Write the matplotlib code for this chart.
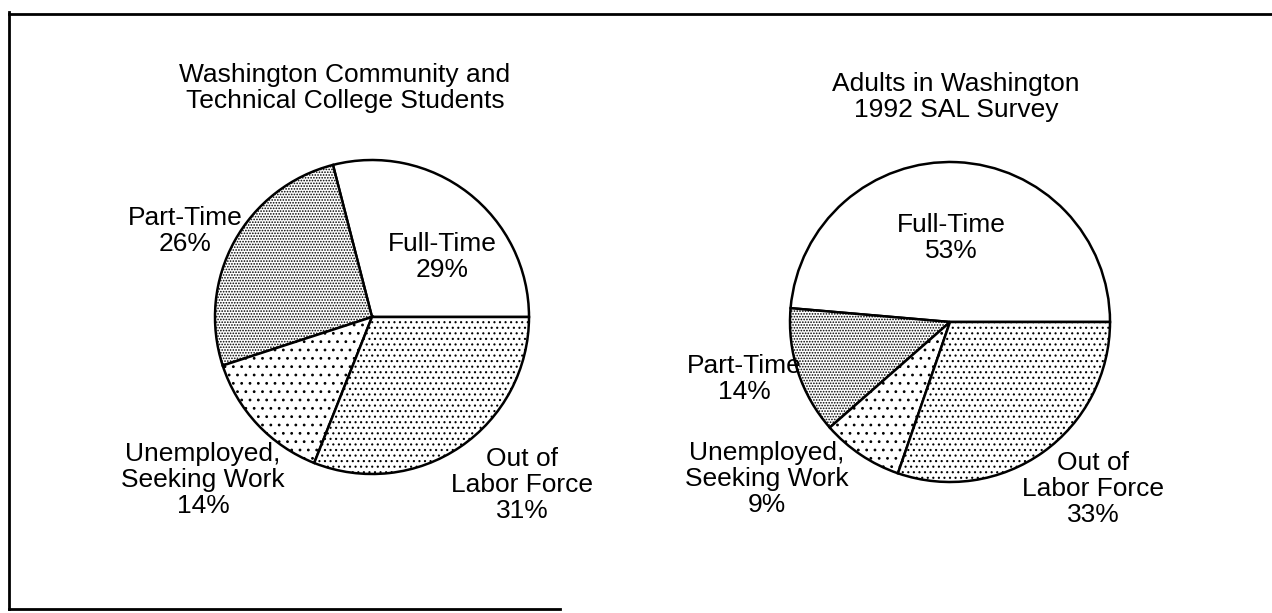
import matplotlib
matplotlib.use("Agg")
import matplotlib.pyplot as plt

plt.rcParams['font.family'] = ['Liberation Sans', 'DejaVu Sans']
plt.rcParams['hatch.linewidth'] = 0.8

# data
categories = ['Full-Time', 'Part-Time', 'Unemployed,\nSeeking Work', 'Out of\nLabor Force']
students = [29, 26, 14, 31]
adults = [53, 14, 9, 33]
titles = ['Washington Community and\nTechnical College Students',
          'Adults in Washington\n1992 SAL Survey']

hatches = ['', '......', '..', '...']

W, H = 1272, 613


def Y(y):
    # pixel row (from top) -> data y
    return H - y


fig = plt.figure(figsize=(12.72, 6.13), dpi=100)
ax = fig.add_axes([0, 0, 1, 1])

pies = [
    (students, (372, 317), 157, titles[0], (345, 88),
     [(442, 257), (185, 231), (203, 480), (522, 485)]),
    (adults, (950, 322), 160, titles[1], (956, 97),
     [(951, 238), (744, 379), (767, 479), (1093, 489)]),
]

for vals, c, r, title, tpos, lpos in pies:
    wedges, _ = ax.pie(vals, center=(c[0], Y(c[1])), radius=r, startangle=0,
                       counterclock=True, colors=['white'] * 4,
                       wedgeprops=dict(edgecolor='black', linewidth=1.8))
    for w, h in zip(wedges, hatches):
        w.set_hatch(h)
    ax.text(tpos[0], Y(tpos[1]), title, ha='center', va='center',
            fontsize=19, linespacing=1.12)
    for cat, v, p in zip(categories, vals, lpos):
        ax.text(p[0], Y(p[1]), f'{cat}\n{v}%', ha='center', va='center',
                fontsize=19, linespacing=1.12)

# scanned frame (top, left, part of bottom)
ax.plot([9, W], [Y(14), Y(14)], color='black', lw=2)
ax.plot([9, 9], [Y(12), Y(609)], color='black', lw=2)
ax.plot([9, 560], [Y(609), Y(609)], color='black', lw=2)

ax.set_xlim(0, W)
ax.set_ylim(0, H)
ax.set_aspect('auto')
ax.axis('off')

fig.savefig('out.png', dpi=100, facecolor='white')
